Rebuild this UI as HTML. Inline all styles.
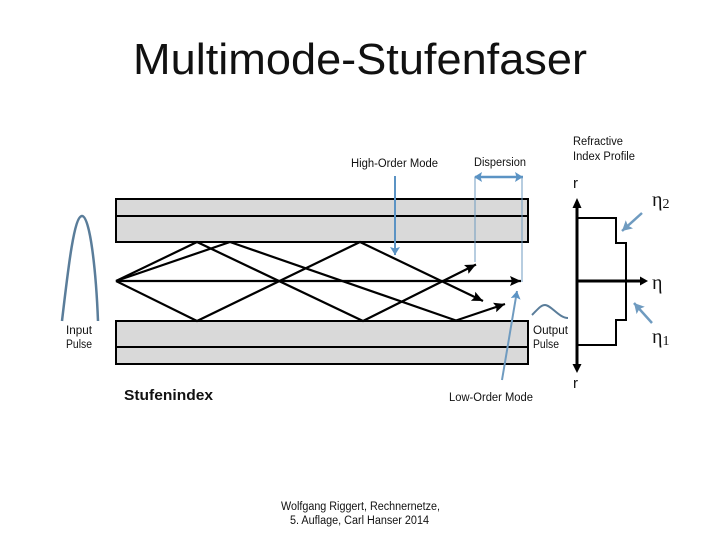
<!DOCTYPE html>
<html><head><meta charset="utf-8"><style>
html,body{margin:0;padding:0;background:#fff}
svg{display:block}
text{font-family:"Liberation Sans",sans-serif;fill:#111}
text.e{font-family:"Liberation Serif",serif}
</style></head><body>
<svg width="720" height="540" viewBox="0 0 720 540" xmlns="http://www.w3.org/2000/svg">
<defs>
<marker id="bk" markerUnits="userSpaceOnUse" markerWidth="12" markerHeight="10" refX="11" refY="5" orient="auto"><path d="M0 0L11 5L0 10L2 5Z" fill="#000"/></marker>
<marker id="bl" markerUnits="userSpaceOnUse" markerWidth="9" markerHeight="10" refX="8" refY="5" orient="auto"><path d="M0 0L8 5L0 10L1.500 5Z" fill="#5b93c4"/></marker>
<marker id="bs" markerUnits="userSpaceOnUse" markerWidth="9" markerHeight="10" refX="1" refY="5" orient="auto"><path d="M8 0L0 5L8 10L6.500 5Z" fill="#5b93c4"/></marker>
<marker id="gr" markerUnits="userSpaceOnUse" markerWidth="11" markerHeight="11" refX="10" refY="5.500" orient="auto"><path d="M0 0L10 5.500L0 11L2 5.500Z" fill="#6f9bc0"/></marker>
</defs>

<text x="133" y="74" font-size="44" textLength="454" lengthAdjust="spacingAndGlyphs">Multimode-Stufenfaser</text>

<text x="351" y="167" font-size="11.500" textLength="87" lengthAdjust="spacingAndGlyphs">High-Order Mode</text>
<text x="474" y="166" font-size="11.500" textLength="52" lengthAdjust="spacingAndGlyphs">Dispersion</text>
<text x="573" y="145" font-size="11.500" textLength="50" lengthAdjust="spacingAndGlyphs">Refractive</text>
<text x="573" y="160" font-size="11.500" textLength="62" lengthAdjust="spacingAndGlyphs">Index Profile</text>
<text x="573" y="188" font-size="15">r</text>
<text x="573" y="388" font-size="15">r</text>
<text class="e" x="652" y="206" font-size="20">η<tspan font-size="14" dy="2">2</tspan></text>
<text class="e" x="652" y="289" font-size="20">η</text>
<text class="e" x="652" y="343" font-size="20">η<tspan font-size="14" dy="2">1</tspan></text>
<text x="66" y="334" font-size="11.500" textLength="26" lengthAdjust="spacingAndGlyphs">Input</text>
<text x="66" y="348" font-size="11.500" textLength="26" lengthAdjust="spacingAndGlyphs">Pulse</text>
<text x="533" y="334" font-size="11.500" textLength="35" lengthAdjust="spacingAndGlyphs">Output</text>
<text x="533" y="348" font-size="11.500" textLength="26" lengthAdjust="spacingAndGlyphs">Pulse</text>
<text x="124" y="400" font-size="15" font-weight="bold" textLength="89" lengthAdjust="spacingAndGlyphs">Stufenindex</text>
<text x="449" y="401" font-size="11.500" textLength="84" lengthAdjust="spacingAndGlyphs">Low-Order Mode</text>
<text x="281" y="510" font-size="11.500" textLength="159" lengthAdjust="spacingAndGlyphs">Wolfgang Riggert, Rechnernetze,</text>
<text x="290" y="524" font-size="11.500" textLength="139" lengthAdjust="spacingAndGlyphs">5. Auflage, Carl Hanser 2014</text>

<g fill="#d9d9d9" stroke="#000" stroke-width="2">
<rect x="116" y="199" width="412" height="43"/>
<line x1="116" y1="216" x2="528" y2="216"/>
<rect x="116" y="321" width="412" height="43"/>
<line x1="116" y1="347" x2="528" y2="347"/>
</g>

<g fill="none" stroke="#000" stroke-width="2.200">
<path d="M116 281L197 242L363 321L476 264.500" marker-end="url(#bk)"/>
<path d="M116 281L230 242L456 320.500L505 304" marker-end="url(#bk)"/>
<path d="M116 281L197 321L360 242L483 301" marker-end="url(#bk)"/>
<path d="M116 281H521" marker-end="url(#bk)"/>
</g>

<path d="M62 321C68 270 74 216 82 216C90 216 96 270 98 321" fill="none" stroke="#5a7d9a" stroke-width="2.500"/>
<path d="M532 315C538 309 541 305 545 305C551 305 559 318 568 318" fill="none" stroke="#5a7d9a" stroke-width="2"/>

<g fill="none" stroke="#5b93c4">
<path d="M395 176V255" stroke-width="2" marker-end="url(#bl)"/>
<path d="M475 177H523" stroke-width="2.500" marker-start="url(#bs)" marker-end="url(#bl)"/>
<path d="M475 177V262" stroke="#6f9bc0" stroke-width="1"/>
<path d="M522 177V282" stroke="#6f9bc0" stroke-width="1"/>
<path d="M502 380L517 291" stroke="#6f9bc0" stroke-width="2" marker-end="url(#bl)"/>
<path d="M642 213L622 231" stroke="#6f9bc0" stroke-width="2.500" marker-end="url(#gr)"/>
<path d="M652 323L634 303" stroke="#6f9bc0" stroke-width="2.500" marker-end="url(#gr)"/>
</g>

<g fill="none" stroke="#000">
<line x1="577" y1="370" x2="577" y2="207" stroke-width="3"/>
<path d="M577 198L581.500 208H572.500Z" fill="#000" stroke="none"/>
<path d="M577 373L581.500 364H572.500Z" fill="#000" stroke="none"/>
<line x1="577" y1="281" x2="640" y2="281" stroke-width="3"/>
<path d="M648 281L640 276.500V285.500Z" fill="#000" stroke="none"/>
<path d="M577 218H616V243H626V320H616V345H577" stroke-width="2"/>
</g>
</svg>
</body></html>
